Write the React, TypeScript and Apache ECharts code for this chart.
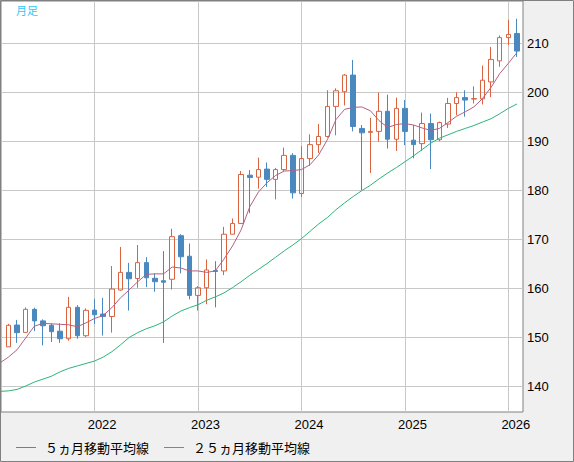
import React, { useEffect, useRef } from "react";
import * as echarts from "echarts";

// Monthly candles, 2021-03 .. 2026-02 (index 0..59)
const MONTHS = [
  "2021-03","2021-04","2021-05","2021-06","2021-07","2021-08","2021-09","2021-10","2021-11","2021-12",
  "2022-01","2022-02","2022-03","2022-04","2022-05","2022-06","2022-07","2022-08","2022-09","2022-10","2022-11","2022-12",
  "2023-01","2023-02","2023-03","2023-04","2023-05","2023-06","2023-07","2023-08","2023-09","2023-10","2023-11","2023-12",
  "2024-01","2024-02","2024-03","2024-04","2024-05","2024-06","2024-07","2024-08","2024-09","2024-10","2024-11","2024-12",
  "2025-01","2025-02","2025-03","2025-04","2025-05","2025-06","2025-07","2025-08","2025-09","2025-10","2025-11","2025-12",
  "2026-01","2026-02",
];

const OPEN = [
  148.0, 152.45, 150.95, 155.65, 153.3, 152.4, 151.2, 149.65, 156.06, 150.27,
  155.5, 154.7, 154.2, 159.6, 163.2, 161.95, 165.2, 162.0, 161.5, 161.8, 170.7, 166.5,
  158.5, 160.06, 163.6, 163.5, 171.0, 173.2, 183.06, 182.65, 184.3, 182.2, 184.2, 187.1,
  179.3, 186.45, 189.3, 190.96, 197.1, 200.1, 203.5, 192.6, 191.8, 192.0, 196.1, 190.4,
  196.7, 190.2, 189.5, 193.6, 190.3, 193.5, 197.7, 198.9, 198.6, 198.65, 202.1, 206.4,
  211.15, 212.0,
];
const CLOSE = [
  152.4, 150.9, 155.65, 153.3, 152.3, 151.1, 149.65, 156.06, 150.27, 155.45,
  154.55, 154.2, 159.8, 163.2, 161.9, 165.2, 162.1, 161.3, 161.2, 170.5, 166.4, 158.5,
  160.06, 163.7, 163.4, 171.0, 173.2, 183.2, 182.6, 184.2, 182.2, 184.2, 187.1, 179.45,
  186.45, 189.3, 190.96, 197.1, 200.3, 203.5, 193.0, 191.7, 192.0, 196.1, 190.4, 196.7,
  192.0, 189.3, 193.6, 190.3, 193.8, 197.7, 198.9, 198.4, 198.7, 202.45, 206.7, 211.15,
  211.8, 208.4,
];
const LOW = [
  148.0, 148.8, 150.9, 151.2, 148.3, 149.0, 148.8, 149.25, 149.65, 150.0,
  152.65, 150.3, 150.9, 159.45, 155.4, 160.06, 160.2, 159.25, 148.8, 159.7, 163.0, 157.7,
  155.4, 156.7, 156.06, 162.65, 171.0, 173.2, 175.3, 180.3, 180.65, 178.1, 183.9, 178.3,
  178.6, 185.0, 187.6, 190.75, 191.2, 197.3, 192.0, 180.0, 183.5, 189.9, 188.5, 188.0,
  189.2, 186.5, 188.0, 184.3, 190.0, 192.7, 195.3, 195.0, 197.7, 197.5, 199.0, 205.2,
  209.6, 207.2,
];
const HIGH = [
  152.7, 153.5, 156.06, 156.0, 153.6, 152.8, 152.8, 158.2, 156.5, 155.85,
  157.75, 158.0, 164.5, 168.4, 165.15, 168.8, 166.3, 163.0, 167.55, 172.1, 171.0, 169.1,
  160.4, 165.85, 165.5, 172.5, 174.2, 183.9, 184.1, 186.65, 185.65, 184.55, 188.7, 187.55,
  189.0, 191.4, 193.5, 200.4, 200.8, 203.7, 206.6, 193.3, 194.8, 199.9, 199.5, 198.9,
  198.4, 193.3, 195.85, 195.65, 194.0, 198.85, 200.0, 200.4, 201.2, 205.45, 209.25, 211.6,
  214.8, 215.0,
];

// Moving averages; first value sits one month before MONTHS[0]
const MA_START = -1;
const MA5 = [
  144.7,
  145.9, 147.4, 149.8, 152.2, 152.8, 152.7, 152.6, 152.5, 152.1, 152.9,
  153.8, 154.4, 156.0, 158.0, 159.6, 161.3, 162.8, 162.9, 162.9, 164.3, 164.1, 163.5,
  163.5, 163.2, 163.5, 165.9, 168.6, 171.9, 176.6, 179.6, 181.5, 183.0, 183.9, 184.0,
  184.2, 185.2, 187.2, 190.3, 194.4, 196.5, 196.9, 197.0, 196.2, 194.2, 192.8, 193.4,
  193.6, 193.3, 192.7, 192.2, 192.6, 193.8, 195.1, 196.0, 197.0, 198.7, 201.0, 203.8,
  205.9, 208.1,
];
const MA25 = [
  138.9,
  139.0, 139.3, 140.0, 140.8, 141.4, 142.0, 142.9, 143.6, 144.1, 144.6,
  145.1, 145.9, 147.0, 148.4, 149.9, 150.9, 151.7, 152.3, 153.1, 154.3, 155.3, 156.0,
  156.6, 157.5, 158.2, 159.0, 160.1, 161.3, 162.6, 163.8, 165.0, 166.3, 167.6, 168.8,
  170.1, 171.6, 173.1, 174.4, 176.0, 177.4, 178.7, 179.9, 181.0, 182.3, 183.5, 184.6,
  185.8, 187.0, 188.3, 189.6, 190.6, 191.3, 192.0, 192.6, 193.2, 193.9, 194.6, 195.6,
  196.7, 197.6,
];

const YEAR_LABELS = ["2022", "2023", "2024", "2025", "2026"];
const YEAR_TICKS = [10, 22, 34, 46, 58]; // month index of each January
const Y_TICKS = [140, 150, 160, 170, 180, 190, 200, 210];

const MA5_NAME = "５ヵ月移動平均線";
const MA25_NAME = "２５ヵ月移動平均線";
const TITLE = "月足";

const UP_COLOR = "#d9643f";
const DOWN_COLOR = "#4a88c0";
const MA5_COLOR = "#b4607f";
const MA25_COLOR = "#2db37a";
const LABEL_SHIFT = 0.87;

export default function App() {
  const ref = useRef<HTMLDivElement>(null);

  useEffect(() => {
    document.body.style.margin = "0";
    if (!ref.current) return;
    const chart = echarts.init(ref.current, null, { renderer: "svg" });

    const candles = MONTHS.map((_, i) => [i, OPEN[i], CLOSE[i], LOW[i], HIGH[i]]);
    const ma5 = MA5.map((v, k) => [MA_START + k, v]);
    const ma25 = MA25.map((v, k) => [MA_START + k, v]);
    const labelValues = YEAR_TICKS.map((t) => t + LABEL_SHIFT);

    const option: any = {
      animation: false,
      backgroundColor: "#f0f0f0",
      textStyle: { fontFamily: "Liberation Sans" },
      title: {
        text: TITLE,
        left: 16,
        top: 4,
        padding: 0,
        textStyle: {
          color: "#33c6f2",
          fontSize: 11,
          fontWeight: "normal",
          fontFamily: "Noto Sans CJK JP",
        },
      },
      legend: {
        left: 16,
        top: 441,
        icon: "rect",
        itemWidth: 20,
        itemHeight: 1,
        itemGap: 15,
        padding: 0,
        textStyle: {
          fontSize: 13,
          fontFamily: "Noto Sans CJK JP",
          color: "#000",
          padding: [0, 0, 0, 4],
        },
        data: [
          { name: MA5_NAME, itemStyle: { color: MA5_COLOR } },
          { name: MA25_NAME, itemStyle: { color: MA25_COLOR } },
        ],
      },
      grid: {
        left: 1,
        top: 1,
        width: 522,
        height: 411,
        show: true,
        backgroundColor: "#ffffff",
        borderColor: "#808080",
        borderWidth: 1,
        outerBoundsMode: "none",
      },
      xAxis: {
        type: "value",
        min: -0.86,
        max: 59.7,
        axisLine: { show: false },
        axisTick: { show: false, customValues: YEAR_TICKS },
        splitLine: { show: true, lineStyle: { color: "#c8c8c8", width: 1 } },
        axisLabel: {
          customValues: labelValues,
          margin: 6,
          fontSize: 13,
          color: "#000",
          fontFamily: "Liberation Sans",
          formatter: (v: number) => {
            const k = Math.round((v - LABEL_SHIFT - YEAR_TICKS[0]) / 12);
            return YEAR_LABELS[k] ?? "";
          },
        },
      },
      yAxis: {
        type: "value",
        position: "right",
        min: 134.69,
        max: 218.63,
        axisLine: { show: false },
        axisTick: { show: false, customValues: Y_TICKS },
        splitLine: { show: true, lineStyle: { color: "#c8c8c8", width: 1 } },
        axisLabel: {
          customValues: Y_TICKS,
          margin: 4,
          fontSize: 13,
          color: "#000",
          fontFamily: "Liberation Sans",
        },
      },
      series: [
        {
          type: "candlestick",
          name: "月足",
          layout: "horizontal",
          encode: { x: 0, y: [1, 2, 3, 4] },
          data: candles,
          barWidth: 5,
          itemStyle: {
            color: "rgba(255,255,255,0)",
            color0: DOWN_COLOR,
            borderColor: UP_COLOR,
            borderColor0: DOWN_COLOR,
            borderWidth: 1,
          },
          z: 2,
        },
        {
          type: "line",
          name: MA5_NAME,
          data: ma5,
          symbol: "none",
          color: MA5_COLOR,
          itemStyle: { color: MA5_COLOR },
          lineStyle: { color: MA5_COLOR, width: 1 },
          z: 3,
        },
        {
          type: "line",
          name: MA25_NAME,
          data: ma25,
          symbol: "none",
          color: MA25_COLOR,
          itemStyle: { color: MA25_COLOR },
          lineStyle: { color: MA25_COLOR, width: 1 },
          z: 3,
        },
      ],
      graphic: [
        {
          type: "rect",
          silent: true,
          z: 100,
          shape: { x: 0.5, y: 0.5, width: 573, height: 461 },
          style: { fill: "none", stroke: "#808080", lineWidth: 1 },
        },
      ],
    };

    chart.setOption(option);
    return () => chart.dispose();
  }, []);

  return <div ref={ref} style={{ width: 574, height: 462 }} />;
}
